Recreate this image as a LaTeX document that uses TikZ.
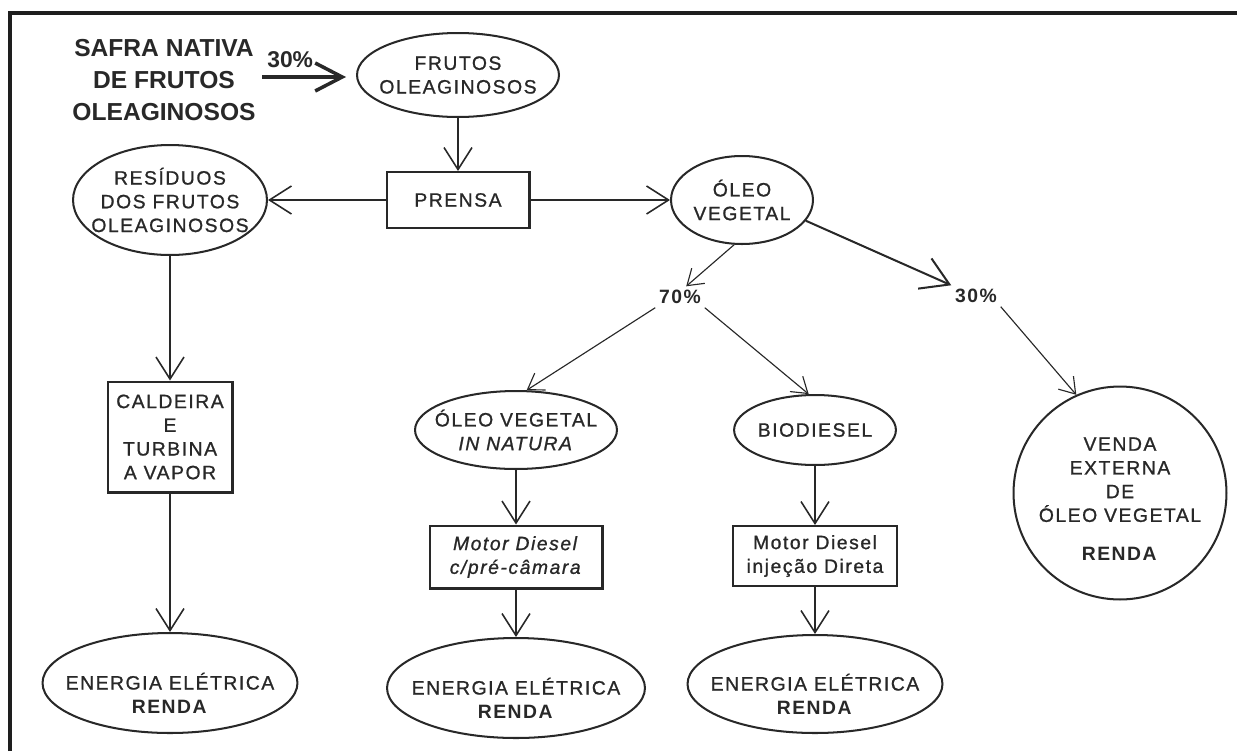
\documentclass[tikz,border=0pt]{standalone}
\usepackage{fontspec}
\setmainfont{Liberation Sans}[LetterSpace=8, UprightFeatures={FakeBold=1}, ItalicFeatures={FakeBold=1}]
\newfontfamily\plainsans{Liberation Sans}
\usetikzlibrary{arrows.meta,shapes.geometric}
\definecolor{inkgray}{RGB}{40,40,40}
\definecolor{framegray}{RGB}{30,30,30}
\tikzset{
oval/.style={ellipse, draw=inkgray, line width=1.15pt, inner sep=0pt},
procbox/.style={rectangle, draw=inkgray, line width=1.15pt, inner sep=0pt},
salecircle/.style={circle, draw=inkgray, line width=1.15pt, inner sep=0pt, minimum size=4.26cm},
flowtext/.style={font=\fontsize{11}{13.5}\selectfont, text=inkgray, align=center},
pctlabel/.style={font=\fontsize{11}{13}\selectfont\bfseries, text=inkgray, inner sep=2pt},
pctbig/.style={font=\plainsans\fontsize{13}{15}\selectfont\bfseries, text=inkgray, inner sep=1pt},
sourcetext/.style={font=\plainsans\fontsize{14}{18.2}\selectfont\bfseries, text=inkgray, align=center},
flowarrow/.style={-{Straight Barb[length=4.4mm,width=5.6mm]}, line width=0.9pt, draw=inkgray},
thinarrow/.style={-{Straight Barb[length=3mm,width=4mm]}, line width=0.65pt, draw=inkgray},
wideflow/.style={-{Straight Barb[length=5.4mm,width=6.6mm]}, line width=1.15pt, draw=inkgray},
inputarrow/.style={-{Straight Barb[length=5.4mm,width=5.6mm]}, line width=2pt, draw=inkgray},
frameline/.style={line width=2pt, draw=framegray}
}

\begin{document}
\begin{tikzpicture}[x=0.02cm, y=-0.02cm]

\useasboundingbox (0,0) rectangle (1237,751);
\draw[frameline] (10,751) -- (10,13) -- (1237,13);

% source and press
\node[sourcetext] (safra) at (164,80) {SAFRA NATIVA\\DE FRUTOS\\OLEAGINOSOS};

\node[oval, minimum width=4.04cm, minimum height=1.68cm] (frutos) at (458,75) {};
\node[flowtext] (frutostxt) at (frutos) {FRUTOS\\OLEAGINOSOS};

\coordinate (safraout) at (262,77);
\draw[inputarrow, shorten >=0.2cm] (safraout) -- (frutos.west |- safraout)
  node[pctbig, pos=0.3, above=3pt] (pcttop) {30\%};

\node[procbox, minimum width=2.86cm, minimum height=1.12cm, flowtext] (prensa) at (458,200) {PRENSA};

\node[oval, minimum width=3.88cm, minimum height=2.2cm] (residuos) at (170,200) {};
\node[flowtext] (residuostxt) at (residuos) {RESÍDUOS\\DOS FRUTOS\\OLEAGINOSOS};

\node[oval, minimum width=2.84cm, minimum height=1.76cm] (oleo) at (742,200) {};
\node[flowtext] (oleotxt) at (oleo) {ÓLEO\\VEGETAL};

\draw[flowarrow] (frutos.south) -- (prensa.north);
\draw[flowarrow] (prensa.west) -- (residuos.east);
\draw[flowarrow] (prensa.east) -- (oleo.west);

% residues branch
\node[procbox, minimum width=2.5cm, minimum height=2.22cm, flowtext] (caldeira) at (170,437)
{CALDEIRA\\E\\TURBINA\\A VAPOR};

\node[oval, minimum width=5.1cm, minimum height=2cm] (energiaA) at (170,683) {};
\node[flowtext] (energiaAtxt) at ([yshift=-0.2cm]energiaA.center) {ENERGIA ELÉTRICA\\\textbf{RENDA}};

\draw[flowarrow] (residuos.south) -- (caldeira.north);
\draw[flowarrow] (caldeira.south) -- (energiaA.north);

% oil split
\node[pctlabel] (pct70) at (680,297) {70\%};
\node[pctlabel] (pct30) at (976,296) {30\%};

\node[oval, minimum width=4.04cm, minimum height=1.56cm] (natura) at (516,430) {};
\node[flowtext] (naturatxt) at (natura) {ÓLEO VEGETAL\\\textit{IN NATURA}};

\node[procbox, minimum width=3.46cm, minimum height=1.26cm, flowtext] (motorA) at (516,557)
{\textit{Motor Diesel}\\\textit{c/pré-câmara}};

\node[oval, minimum width=5.16cm, minimum height=2cm] (energiaB) at (516,688) {};
\node[flowtext] (energiaBtxt) at ([yshift=-0.2cm]energiaB.center) {ENERGIA ELÉTRICA\\\textbf{RENDA}};

\node[oval, minimum width=3.2cm, minimum height=1.4cm, flowtext] (biodiesel) at (815,430) {BIODIESEL};

\node[procbox, minimum width=3.28cm, minimum height=1.2cm, flowtext] (motorB) at (815,556)
{Motor Diesel\\injeção Direta};

\node[oval, minimum width=5.1cm, minimum height=1.96cm] (energiaC) at (815,684) {};
\node[flowtext] (energiaCtxt) at ([yshift=-0.2cm]energiaC.center) {ENERGIA ELÉTRICA\\\textbf{RENDA}};

\node[salecircle] (venda) at (1120,493) {};
\node[flowtext] (vendatxt) at ([yshift=-0.12cm]venda.center)
{VENDA\\EXTERNA\\DE\\ÓLEO VEGETAL\\[0.3cm]\textbf{RENDA}};

\draw[thinarrow] (oleo.-100) -- (pct70.60);
\draw[thinarrow] (pct70.south west) -- (natura.75);
\draw[thinarrow] (pct70.south east) -- (biodiesel.100);
\draw[wideflow] (oleo.-18) -- (pct30.north west);
\draw[thinarrow] (pct30.south east) -- (venda.114);

\draw[flowarrow] (natura.south) -- (motorA.north);
\draw[flowarrow] (motorA.south) -- (energiaB.north);
\draw[flowarrow] (biodiesel.south) -- (motorB.north);
\draw[flowarrow] (motorB.south) -- (energiaC.north);

\end{tikzpicture}
\end{document}
